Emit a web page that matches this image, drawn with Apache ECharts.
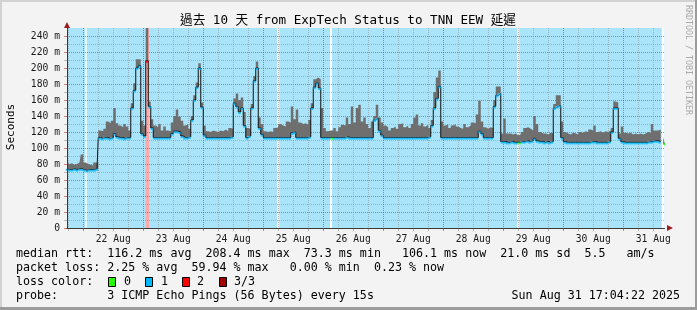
<!DOCTYPE html>
<html><head><meta charset="utf-8">
<script src="https://cdn.jsdelivr.net/npm/echarts@6/dist/echarts.min.js"></script>
<style>
html,body{margin:0;padding:0;background:#f3f3f3;overflow:hidden;}
#c{position:absolute;left:0;top:0;width:697px;height:310px;}
.fr{position:absolute;}
</style></head><body>
<div id="c"></div>
<div class="fr" style="left:0;top:0;width:697px;height:2px;background:#d2d2d2"></div>
<div class="fr" style="left:0;top:0;width:2px;height:310px;background:#d2d2d2"></div>
<div class="fr" style="left:695px;top:0;width:2px;height:310px;background:#9c9c9c"></div>
<div class="fr" style="left:0;top:307px;width:697px;height:3px;background:#9c9c9c"></div>
<script>
// ---- data (hourly samples, starting Aug 21 ~17:30) ----
const dayLabels = ['22 Aug','23 Aug','24 Aug','25 Aug','26 Aug','27 Aug','28 Aug','29 Aug','30 Aug','31 Aug'];
const median = [
74,73,73,74,73,74,74,73,72,73,
73,73,74,113,112,113,113,112,113,118,
114,113,113,112,113,113,150,172,200,203,
118,115,209,152,125,113,113,113,113,113,
113,113,118,121,121,120,115,113,113,114,
135,160,176,200,151,116,113,113,113,113,
113,113,113,113,113,113,114,156,152,145,
150,128,113,115,150,184,200,125,117,113,
113,113,113,113,113,113,113,113,113,113,
119,120,113,113,113,113,113,114,150,176,
181,175,113,113,113,113,113,113,113,113,
113,113,114,113,113,113,113,113,113,113,
113,113,113,135,137,122,116,113,113,113,
113,113,113,113,113,113,113,113,113,113,
113,113,113,113,113,114,128,150,162,177,
113,113,113,113,113,113,113,113,113,113,
113,113,113,113,113,121,118,113,113,113,
113,152,166,168,108,108,107,107,108,107,
107,107,108,108,109,108,109,112,109,108,
108,107,108,107,108,150,152,153,113,108,
107,107,107,107,107,107,107,107,107,107,
108,108,107,107,107,107,107,108,120,150,
150,112,108,107,107,107,107,107,107,107,
107,107,107,108,108,109,109,108,null,106
];
const smokeTop = [
82,80,81,79,80,82,92,82,80,79,
78,82,82,122,121,124,133,131,134,150,
131,128,126,130,127,122,156,181,211,211,
134,128,250,158,136,128,126,130,122,127,
122,121,132,140,148,139,134,128,130,124,
140,166,182,206,157,128,121,120,122,121,
120,122,121,123,121,125,124,162,168,160,
163,145,125,124,155,190,208,138,130,121,
120,121,120,125,126,130,128,127,133,132,
152,136,148,132,130,131,129,135,156,186,
188,186,150,125,121,122,122,125,121,126,
129,128,138,130,152,132,150,154,133,138,
130,125,133,140,154,138,132,128,126,122,
125,127,124,130,131,126,128,125,130,138,
142,128,131,127,129,125,135,170,188,197,
133,128,130,125,128,130,127,125,124,130,
126,128,132,131,142,159,133,126,124,126,
125,160,177,177,118,137,118,118,117,118,
116,117,120,125,126,124,122,140,130,120,
118,118,117,119,118,155,166,166,133,120,
118,117,119,118,117,120,119,121,120,123,
122,128,120,121,119,121,120,122,125,158,
157,118,127,119,118,119,117,118,117,118,
117,118,120,119,130,122,122,123,null,114
];
const lossTwo = [32];            // samples with 2/3 loss
const lossZero = [106, 181, 239]; // samples with 0 loss
const highLossBands = [[31.5, 32.8]];
const unknownFull = [[7.3, 7.9], [105.2, 106.0], [237.9, 239]];
const unknownPartial = [[84.1, 84.9], [180.1, 180.9]];

// ---- style ----
const F = '"DejaVu Sans Mono", "Liberation Mono", monospace';
const BG_LOSS1 = '#aae4fa';
const PINK = '#fcaaaa';
const GRIDC = 'rgba(140,140,140,0.56)';
const MGRIDC = 'rgba(192,32,32,0.56)';
const lossColors = ['#26ff00', '#00b8ff', '#ff0000', '#a00000'];

const hourCats = median.map((_, j) => String(j));
const halfHours = Array.from({length: 479}, (_, k) => String(k));
const MID = 13, NOON = 37;
const yCats = Array.from({length: 26}, (_, k) => String(k * 10));

const bandVals = median.map((v, j) => (v == null || smokeTop[j] == null) ? null : smokeTop[j] - v);
const markers = median.map((v, j) => {
  if (v == null) return null;
  let lvl = 1;
  if (lossTwo.includes(j)) lvl = 2;
  if (lossZero.includes(j)) lvl = 0;
  return {value: v, itemStyle: {color: lossColors[lvl]}};
});
const bandArea = (arr, color) => arr.map(b => [{xAxis: b[0], itemStyle: {color: color, opacity: 1, borderWidth: 0}}, {xAxis: b[1]}]);

const isMinorV = i => (i - MID) % 12 === 0 && (i - MID) % 48 !== 0;
const isMajorV = i => (i - MID) % 48 === 0;

const chart = echarts.init(document.getElementById('c'), null, {renderer: 'canvas'});
chart.setOption({
  backgroundColor: '#f3f3f3',
  animation: false,
  grid: {left: 67, top: 28, width: 597.5, height: 200, show: true, backgroundColor: BG_LOSS1, borderWidth: 0},
  xAxis: [
    {type: 'value', min: 0, max: 239, z: 10, axisLine: {show: true, onZero: false, lineStyle: {color: '#3a3a3a', width: 1}},
     axisTick: {show: false}, axisLabel: {show: false}, splitLine: {show: false}},
    {type: 'category', data: halfHours, boundaryGap: false, position: 'bottom', z: 2,
     axisLine: {show: false}, axisLabel: {show: false},
     axisTick: {show: true, length: 3, interval: isMinorV, lineStyle: {color: GRIDC}},
     splitLine: {show: true, interval: isMinorV, lineStyle: {color: GRIDC, type: [1, 1], width: 1}}},
    {type: 'category', data: halfHours, boundaryGap: false, position: 'bottom', z: 2,
     axisLine: {show: false},
     axisTick: {show: true, length: 3, interval: isMajorV, lineStyle: {color: MGRIDC}},
     axisLabel: {show: true, interval: i => i >= NOON && (i - NOON) % 48 === 0,
       formatter: (v, i) => dayLabels[(i - NOON) / 48] || '', margin: 6,
       fontFamily: F, fontSize: 9.7, color: '#1a1a1a'},
     splitLine: {show: true, interval: isMajorV, lineStyle: {color: MGRIDC, type: [1, 1], width: 1}}},
    {type: 'category', data: hourCats, boundaryGap: false, position: 'bottom', show: false}
  ],
  yAxis: [
    {type: 'value', min: 0, max: 250, interval: 20, z: 10,
     axisLine: {show: true, onZero: false, lineStyle: {color: '#3a3a3a', width: 1}},
     axisTick: {show: false}, splitLine: {show: false},
     axisLabel: {formatter: v => (v % 20 ? '' : (v === 0 ? '0' : v + ' m')), margin: 7,
       fontFamily: F, fontSize: 9.7, color: '#1a1a1a'}},
    {type: 'category', data: yCats, boundaryGap: false, position: 'left', z: 2,
     axisLine: {show: false}, axisLabel: {show: false},
     axisTick: {show: true, length: 3, interval: i => i % 2 === 1 && i < 25, lineStyle: {color: GRIDC}},
     splitLine: {show: true, interval: i => i % 2 === 1 && i < 25, lineStyle: {color: GRIDC, type: [1, 1], width: 1}}},
    {type: 'category', data: yCats, boundaryGap: false, position: 'left', z: 2,
     axisLine: {show: false}, axisLabel: {show: false},
     axisTick: {show: true, length: 3, interval: i => i % 2 === 0, lineStyle: {color: MGRIDC}},
     splitLine: {show: true, interval: i => i % 2 === 0 && i > 0, lineStyle: {color: MGRIDC, type: [1, 1], width: 1}}}
  ],
  series: [
    {type: 'line', xAxisIndex: 0, yAxisIndex: 0, data: [], z: 1, silent: true,
     markArea: {silent: true, data: bandArea(highLossBands, PINK).concat(bandArea(unknownPartial, '#ffffff'))}},
    {type: 'line', xAxisIndex: 3, yAxisIndex: 0, stack: 'smoke', data: median, step: 'middle', symbol: 'none', z: 3, silent: true,
     lineStyle: {width: 0, opacity: 0}},
    {type: 'line', xAxisIndex: 3, yAxisIndex: 0, stack: 'smoke', data: bandVals, step: 'middle', symbol: 'none', z: 3, silent: true,
     lineStyle: {width: 0, opacity: 0}, areaStyle: {color: '#6f6f6f', opacity: 1}},
    {type: 'line', xAxisIndex: 0, yAxisIndex: 0, data: [], z: 4, silent: true,
     markArea: {silent: true, data: bandArea(unknownFull, '#ffffff')}},
    {type: 'line', xAxisIndex: 3, yAxisIndex: 0, data: median, step: 'middle', symbol: 'none', z: 5, silent: true,
     lineStyle: {color: '#111111', width: 1}},
    {type: 'scatter', xAxisIndex: 3, yAxisIndex: 0, data: markers, symbol: 'rect', symbolSize: [2.5, 2], symbolOffset: [0, 1], z: 6, silent: true}
  ],
  graphic: [
    {type: 'polygon', shape: {points: [[64, 28], [70, 28], [67, 22]]}, style: {fill: '#9c1f1f'}, z: 20},
    {type: 'polygon', shape: {points: [[667, 225], [667, 231], [673, 228]]}, style: {fill: '#9c1f1f'}, z: 20},
    {type: 'text', x: 348, y: 21, z: 20, style: {text: '過去 10 天 from ExpTech Status to TNN EEW 延遲',
      font: '12.6px "DejaVu Sans Mono", "Noto Sans CJK TC", monospace', fill: '#000',
      align: 'center', verticalAlign: 'middle', textAlign: 'center', textVerticalAlign: 'middle'}},
    {type: 'text', x: 11, y: 127, rotation: Math.PI / 2, z: 20, style: {text: 'Seconds',
      font: '11px ' + F, fill: '#000', align: 'center', verticalAlign: 'middle', textAlign: 'center', textVerticalAlign: 'middle'}},
    {type: 'text', x: 688.5, y: 60, rotation: -Math.PI / 2, z: 20, style: {text: 'RRDTOOL / TOBI OETIKER',
      font: '8.3px ' + F, fill: '#aaaaaa', align: 'center', verticalAlign: 'middle', textAlign: 'center', textVerticalAlign: 'middle'}},
    {type: 'text', x: 16, y: 254.3, z: 20, style: {text: 'median rtt:  116.2 ms avg  208.4 ms max  73.3 ms min   106.1 ms now  21.0 ms sd  5.5   am/s',
      font: '11.66px ' + F, fill: '#000', verticalAlign: 'middle', textVerticalAlign: 'middle'}},
    {type: 'text', x: 16, y: 268.3, z: 20, style: {text: 'packet loss: 2.25 % avg  59.94 % max   0.00 % min  0.23 % now',
      font: '11.66px ' + F, fill: '#000', verticalAlign: 'middle', textVerticalAlign: 'middle'}},
    {type: 'text', x: 16, y: 282.3, z: 20, style: {text: 'loss color:',
      font: '11.66px ' + F, fill: '#000', verticalAlign: 'middle', textVerticalAlign: 'middle'}},
    {type: 'rect', shape: {x: 108.5, y: 277.5, width: 7, height: 9}, style: {fill: lossColors[0], stroke: '#000', lineWidth: 1}, z: 20},
    {type: 'text', x: 124, y: 282.3, z: 20, style: {text: '0', font: '11.66px ' + F, fill: '#000', verticalAlign: 'middle', textVerticalAlign: 'middle'}},
    {type: 'rect', shape: {x: 145.5, y: 277.5, width: 7, height: 9}, style: {fill: lossColors[1], stroke: '#000', lineWidth: 1}, z: 20},
    {type: 'text', x: 161, y: 282.3, z: 20, style: {text: '1', font: '11.66px ' + F, fill: '#000', verticalAlign: 'middle', textVerticalAlign: 'middle'}},
    {type: 'rect', shape: {x: 182.5, y: 277.5, width: 7, height: 9}, style: {fill: lossColors[2], stroke: '#000', lineWidth: 1}, z: 20},
    {type: 'text', x: 197, y: 282.3, z: 20, style: {text: '2', font: '11.66px ' + F, fill: '#000', verticalAlign: 'middle', textVerticalAlign: 'middle'}},
    {type: 'rect', shape: {x: 219.5, y: 277.5, width: 7, height: 9}, style: {fill: lossColors[3], stroke: '#000', lineWidth: 1}, z: 20},
    {type: 'text', x: 234, y: 282.3, z: 20, style: {text: '3/3', font: '11.66px ' + F, fill: '#000', verticalAlign: 'middle', textVerticalAlign: 'middle'}},
    {type: 'text', x: 16, y: 296.3, z: 20, style: {text: 'probe:       3 ICMP Echo Pings (56 Bytes) every 15s',
      font: '11.66px ' + F, fill: '#000', verticalAlign: 'middle', textVerticalAlign: 'middle'}},
    {type: 'text', x: 680, y: 296.3, z: 20, style: {text: 'Sun Aug 31 17:04:22 2025',
      font: '11.66px ' + F, fill: '#000', align: 'right', textAlign: 'right', verticalAlign: 'middle', textVerticalAlign: 'middle'}}
  ]
});
</script>
</body></html>
